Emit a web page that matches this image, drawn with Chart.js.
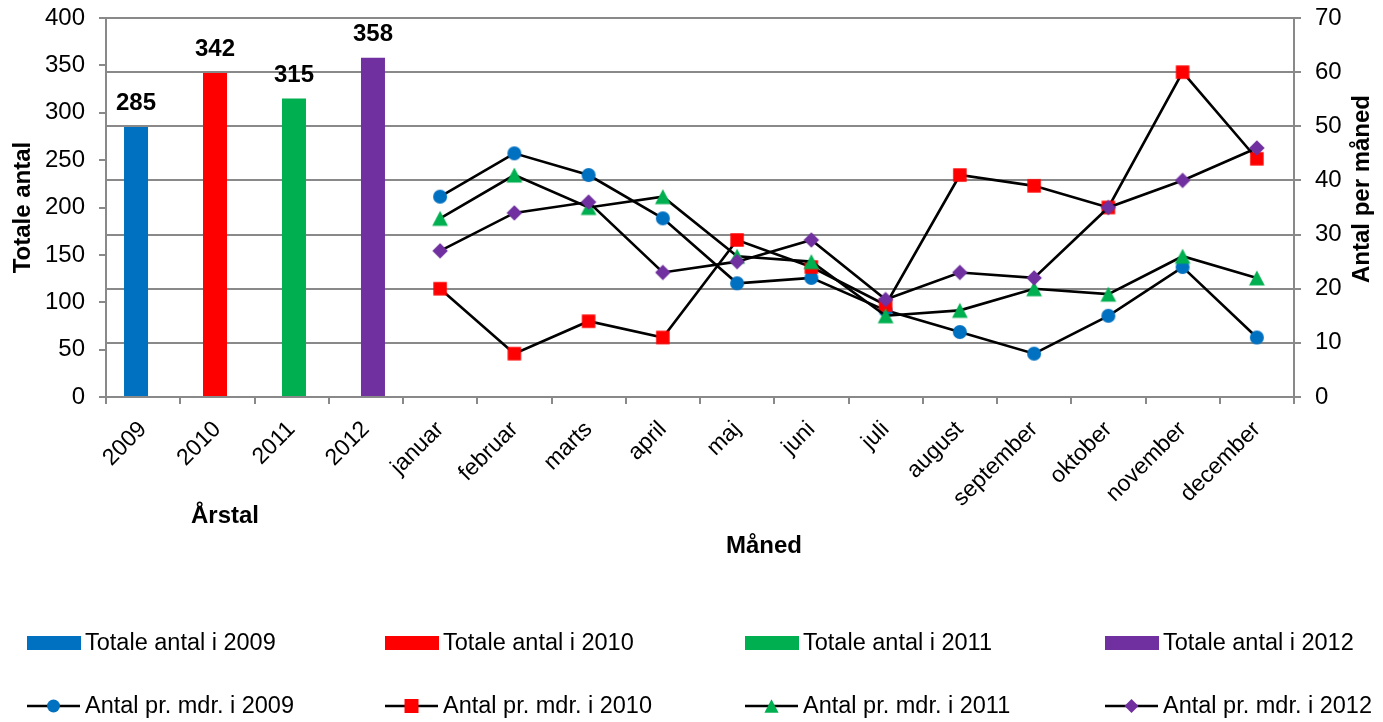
<!DOCTYPE html>
<html>
<head>
<meta charset="utf-8">
<script src="https://cdn.jsdelivr.net/npm/chart.js@4.4.1/dist/chart.umd.min.js"></script>
<style>
    html, body { margin: 0; padding: 0; background: #fff; }
    #wrap { width: 1383px; height: 722px; position: relative; }
</style>
</head>
<body>
<div id="wrap"><canvas id="chart"></canvas></div>
<script>
const years = ["2009", "2010", "2011", "2012"];
const months = ["januar", "februar", "marts", "april", "maj", "juni", "juli", "august", "september", "oktober", "november", "december"];
const yearTotals = [285, 342, 315, 358];
const perMonth2009 = [37, 45, 41, 33, 21, 22, 16, 12, 8, 15, 24, 11];
const perMonth2010 = [20, 8, 14, 11, 29, 24, 17, 41, 39, 35, 60, 44];
const perMonth2011 = [33, 41, 35, 37, 26, 25, 15, 16, 20, 19, 26, 22];
const perMonth2012 = [27, 34, 36, 23, 25, 29, 18, 23, 22, 35, 40, 46];
const leftTicks = [0, 50, 100, 150, 200, 250, 300, 350, 400];
const rightTicks = [0, 10, 20, 30, 40, 50, 60, 70];

const colors = ["#0070C0", "#FF0000", "#00B050", "#7030A0"];
const shapes = ["circle", "rect", "triangle", "rectRot"];
const gray = "#898989";
const fontFamily = "'Liberation Sans', Arial, sans-serif";

Chart.defaults.font.family = fontFamily;
Chart.defaults.color = "#000";

const labels = years.concat(months);
const monthly = [perMonth2009, perMonth2010, perMonth2011, perMonth2012];

// marker shapes, s = full size in px
function drawMarker(ctx, shape, x, y, s) {
    const h = s / 2;
    ctx.beginPath();
    if (shape === "circle") {
        ctx.arc(x, y, h, 0, Math.PI * 2);
    } else if (shape === "rect") {
        ctx.rect(x - h, y - h, s, s);
    } else if (shape === "triangle") {
        ctx.moveTo(x, y - h);
        ctx.lineTo(x + h * 1.05, y + h);
        ctx.lineTo(x - h * 1.05, y + h);
        ctx.closePath();
    } else {
        ctx.moveTo(x, y - h);
        ctx.lineTo(x + h, y);
        ctx.lineTo(x, y + h);
        ctx.lineTo(x - h, y);
        ctx.closePath();
    }
    ctx.fill();
}

const markerSizes = [14, 13.5, 15, 15.5];
const markerImages = shapes.map((shape, k) => {
    const c = document.createElement("canvas");
    c.width = 18;
    c.height = 18;
    const g = c.getContext("2d");
    g.fillStyle = colors[k];
    drawMarker(g, shape, 9, 9, markerSizes[k]);
    return c;
});

const barSets = years.map((y, k) => ({
    type: "bar",
    label: "Totale antal i " + y,
    data: labels.map((_, i) => i === k ? yearTotals[k] : null),
    backgroundColor: colors[k],
    yAxisID: "y",
    categoryPercentage: 0.255,
    barPercentage: 5.07,
    order: 10
}));

const lineSets = years.map((y, k) => ({
    type: "line",
    label: "Antal pr. mdr. i " + y,
    data: years.map(() => null).concat(monthly[k]),
    borderColor: "#000",
    borderWidth: 2.6,
    tension: 0,
    pointStyle: markerImages[k],
    pointRadius: 9,
    pointHoverRadius: 9,
    yAxisID: "y1",
    order: 4 - k
}));

// value labels above the bars
const barLabels = {
    id: "barLabels",
    afterDatasetsDraw(chart) {
        const ctx = chart.ctx;
        ctx.save();
        ctx.font = "bold 24px " + fontFamily;
        ctx.fillStyle = "#000";
        ctx.textAlign = "center";
        ctx.textBaseline = "alphabetic";
        chart.data.datasets.forEach((ds, di) => {
            if (ds.type !== "bar") return;
            const meta = chart.getDatasetMeta(di);
            meta.data.forEach((el, i) => {
                if (ds.data[i] == null) return;
                ctx.fillText(String(ds.data[i]), el.x, el.y - 17);
            });
        });
        ctx.restore();
    }
};

// axis titles and legend
const extras = {
    id: "extras",
    afterDraw(chart) {
        const ctx = chart.ctx;
        const area = chart.chartArea;
        ctx.save();
        ctx.fillStyle = "#000";
        ctx.font = "bold 24px " + fontFamily;
        ctx.textAlign = "center";
        ctx.textBaseline = "middle";

        ctx.save();
        ctx.translate(23, (area.top + area.bottom) / 2);
        ctx.rotate(-Math.PI / 2);
        ctx.fillText("Totale antal", 0, 0);
        ctx.restore();

        ctx.save();
        ctx.translate(1362, 189);
        ctx.rotate(-Math.PI / 2);
        ctx.fillText("Antal per måned", 0, 0);
        ctx.restore();

        ctx.fillText("Årstal", 225, 516);
        ctx.fillText("Måned", 764, 546);

        // legend
        const cols = [27, 385, 745, 1105];
        const rows = [643, 706];
        const legendSizes = [13, 14, 13.5, 14];
        ctx.font = "23.5px " + fontFamily;
        ctx.textAlign = "left";
        years.forEach((y, k) => {
            const x = cols[k];
            ctx.fillStyle = colors[k];
            ctx.fillRect(x, rows[0] - 7, 54, 14);
            ctx.fillStyle = "#000";
            ctx.fillText("Totale antal i " + y, x + 58, rows[0] + 1);

            ctx.strokeStyle = "#000";
            ctx.lineWidth = 2.5;
            ctx.beginPath();
            ctx.moveTo(x, rows[1]);
            ctx.lineTo(x + 53, rows[1]);
            ctx.stroke();
            ctx.fillStyle = colors[k];
            drawMarker(ctx, shapes[k], x + 26.5, rows[1], legendSizes[k]);
            ctx.fillStyle = "#000";
            ctx.fillText("Antal pr. mdr. i " + y, x + 58, rows[1] + 1);
        });
        ctx.restore();
    }
};

const noPad = s => { s.paddingTop = 0; s.paddingBottom = 0; };

const ctx = document.getElementById("chart").getContext("2d");
new Chart(ctx, {
    data: {
        labels: labels,
        datasets: lineSets.concat(barSets)
    },
    options: {
        responsive: true,
        maintainAspectRatio: false,
        animation: false,
        layout: { autoPadding: false, padding: { top: 18, left: 0, right: 0, bottom: 0 } },
        plugins: {
            legend: { display: false },
            tooltip: { enabled: false }
        },
        scales: {
            x: {
                offset: true,
                grid: { offset: true, drawOnChartArea: false, tickLength: 7, color: gray, lineWidth: 2 },
                border: { color: gray, width: 2 },
                ticks: { font: { size: 23 }, minRotation: 45, maxRotation: 45, autoSkip: false, padding: 12 },
                afterFit: s => { s.height = 325; s.paddingLeft = 0; s.paddingRight = 0; }
            },
            y: {
                position: "left",
                min: 0,
                max: 400,
                afterBuildTicks: s => { s.ticks = leftTicks.map(v => ({ value: v })); },
                grid: { drawOnChartArea: false, tickLength: 7, color: gray, lineWidth: 2 },
                border: { color: gray, width: 2 },
                ticks: { font: { size: 24 }, padding: 14 },
                afterFit: s => { s.width = 106; noPad(s); }
            },
            y1: {
                position: "right",
                min: 0,
                max: 70,
                afterBuildTicks: s => { s.ticks = rightTicks.map(v => ({ value: v })); },
                grid: { drawOnChartArea: true, tickLength: 7, color: gray, lineWidth: 2 },
                border: { color: gray, width: 2 },
                ticks: { font: { size: 24 }, padding: 14 },
                afterFit: s => { s.width = 89; noPad(s); }
            }
        }
    },
    plugins: [barLabels, extras]
});
</script>
</body>
</html>
